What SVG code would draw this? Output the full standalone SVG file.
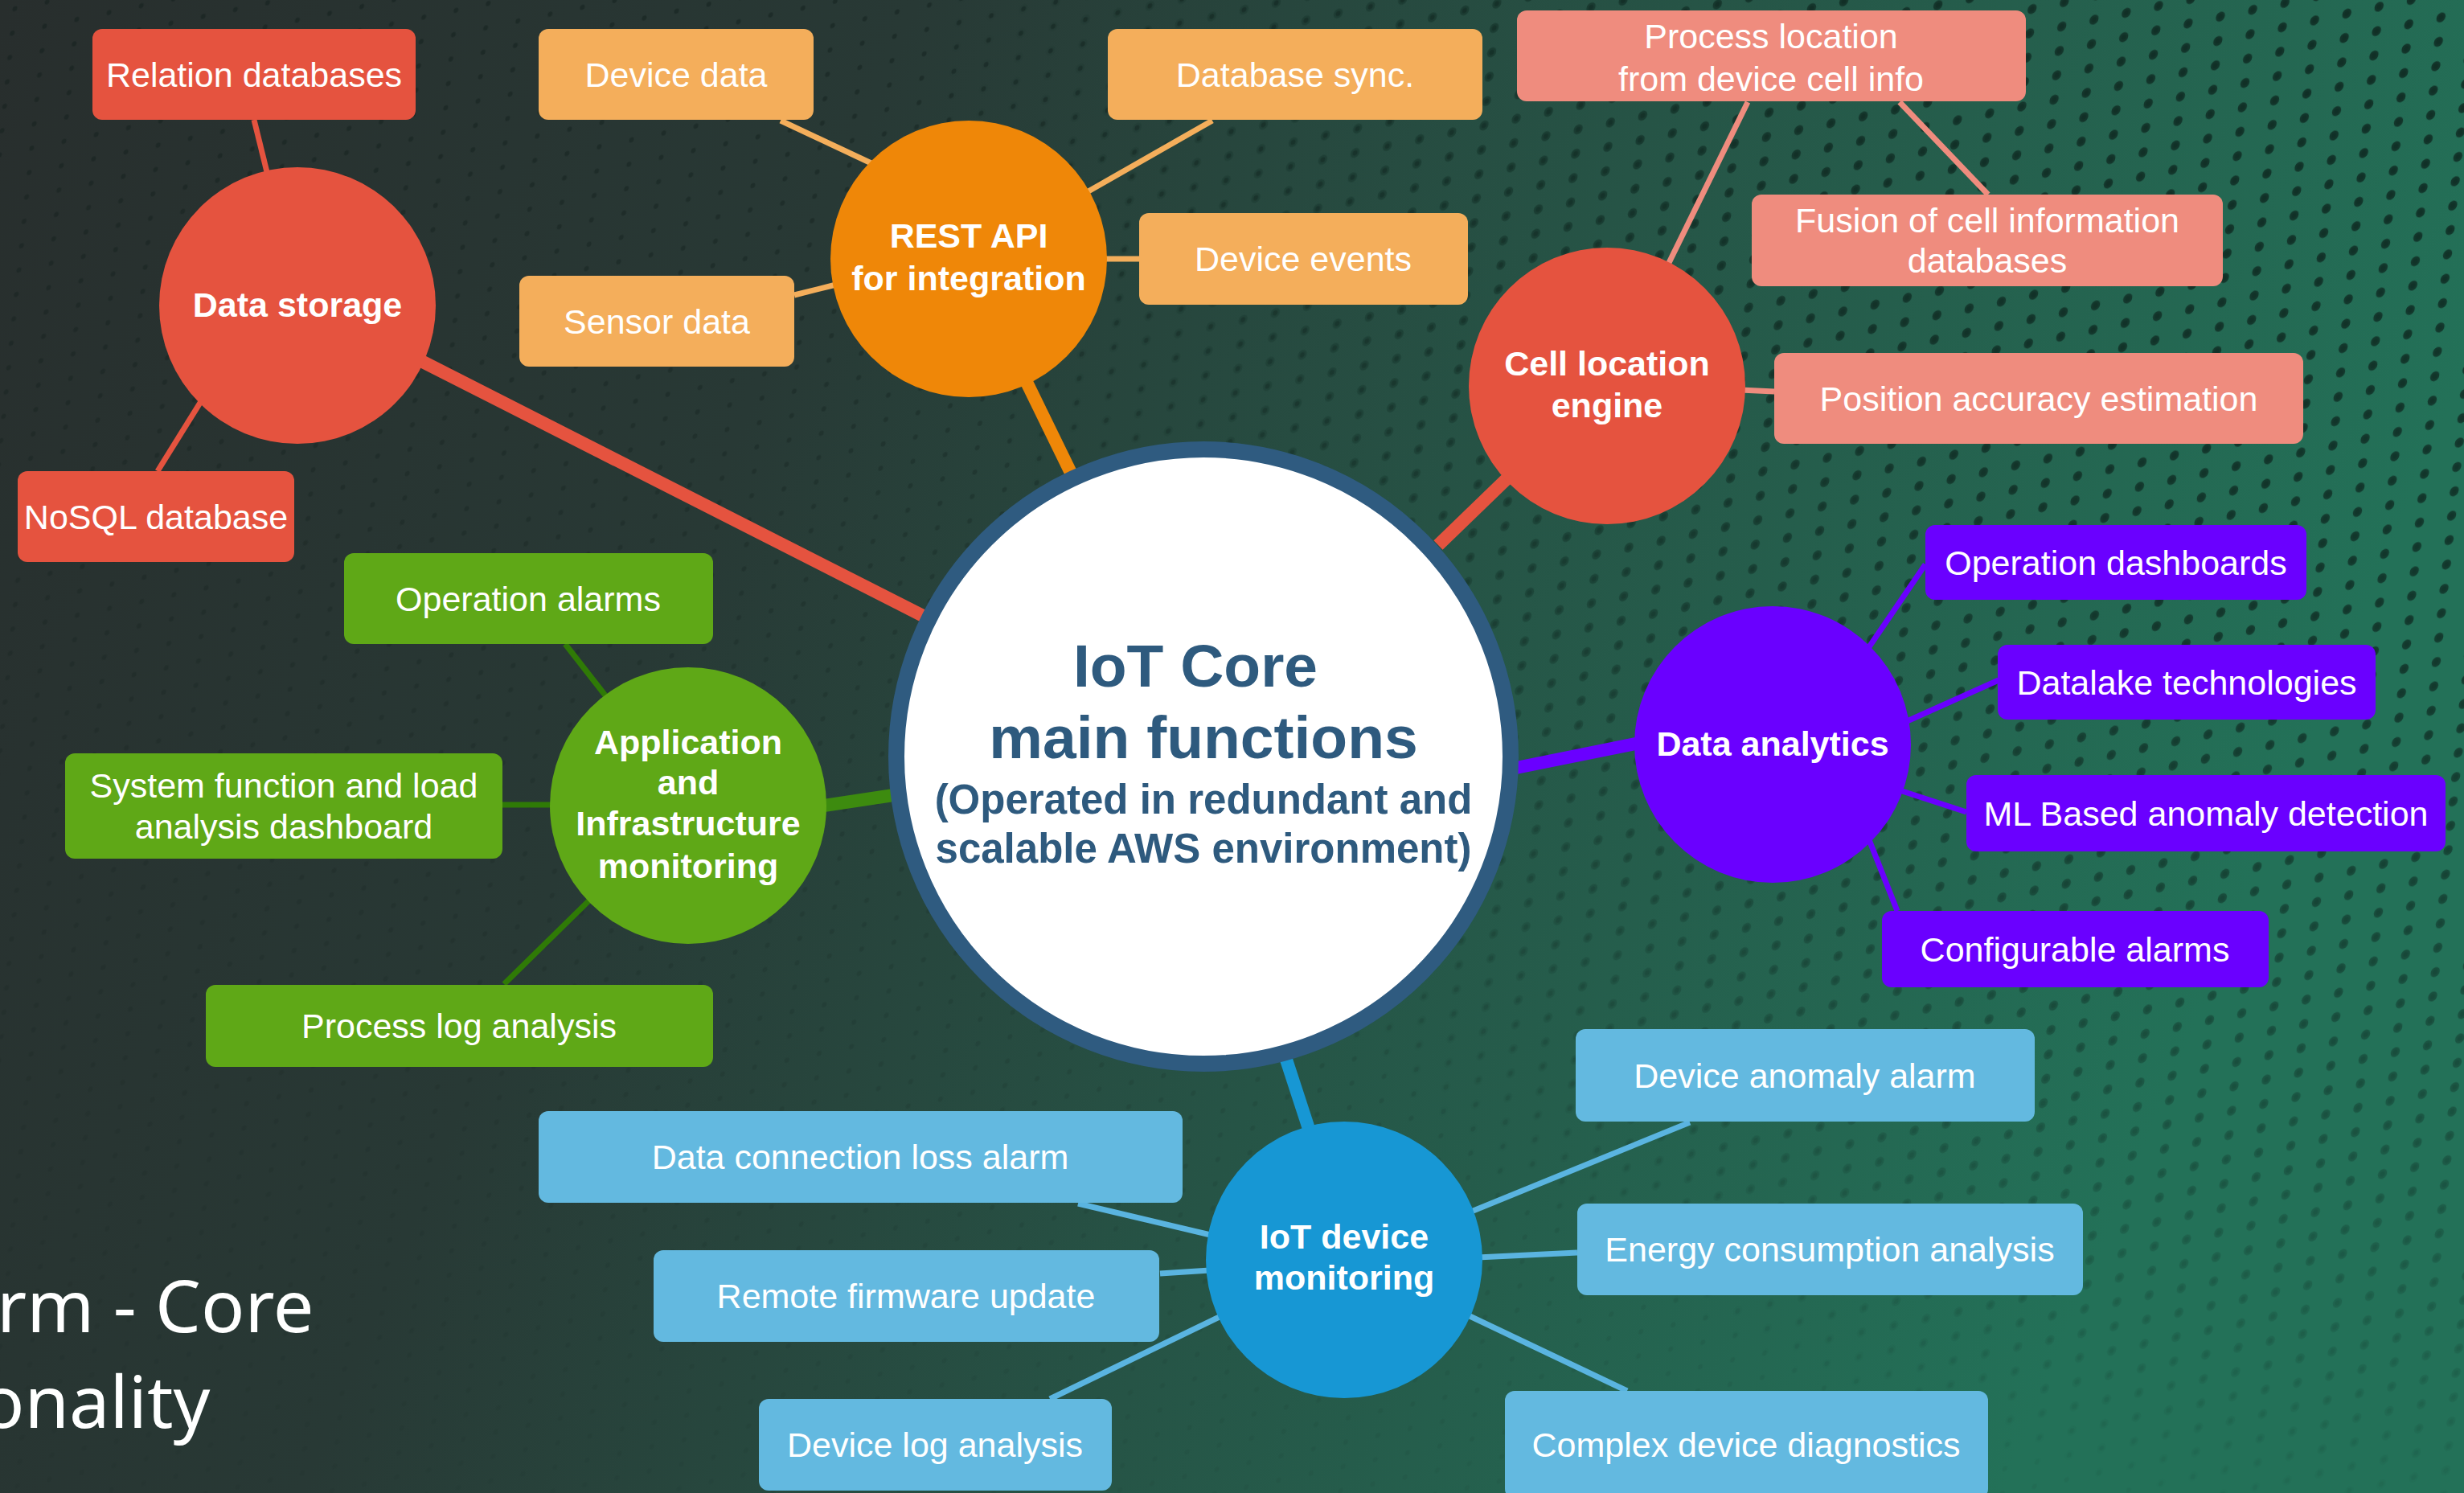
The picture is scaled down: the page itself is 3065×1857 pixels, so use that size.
<svg xmlns="http://www.w3.org/2000/svg" width="3065" height="1857" viewBox="0 0 3065 1857">
<style>
.bt{font-family:"Liberation Sans",Arial,sans-serif;font-size:43px;fill:#ffffff;text-anchor:middle}
.nt{font-family:"Liberation Sans",Arial,sans-serif;font-size:43px;font-weight:bold;fill:#ffffff;text-anchor:middle}
.ct{font-family:"Liberation Sans",Arial,sans-serif;font-weight:bold;fill:#2e5a7e;text-anchor:middle}
.title{font-family:"Noto Sans","Open Sans",sans-serif;font-size:90px;fill:#ffffff}
.thin{stroke-width:7;fill:none}
.thick{stroke-width:16;fill:none}
</style>
<defs>
<linearGradient id="bg" x1="0" y1="0" x2="1" y2="0.25">
<stop offset="0" stop-color="#282e2d"/>
<stop offset="0.35" stop-color="#283935"/>
<stop offset="0.65" stop-color="#265446"/>
<stop offset="1" stop-color="#237158"/>
</linearGradient>
<pattern id="dotsL" width="41" height="29" patternUnits="userSpaceOnUse" patternTransform="rotate(-12) skewX(-18)">
<circle cx="20.5" cy="14.5" r="5.8" fill="#0f2a22"/>
</pattern>
<pattern id="dotsS" width="41" height="29" patternUnits="userSpaceOnUse" patternTransform="rotate(-12) skewX(-18)">
<circle cx="20.5" cy="14.5" r="3" fill="#101d1a"/>
</pattern>
<radialGradient id="rg" cx="3065" cy="0" r="1900" gradientUnits="userSpaceOnUse">
<stop offset="0" stop-color="#fff" stop-opacity="1"/>
<stop offset="0.45" stop-color="#fff" stop-opacity="0.85"/>
<stop offset="1" stop-color="#fff" stop-opacity="0"/>
</radialGradient>
<linearGradient id="lg" x1="0" y1="0" x2="0" y2="1">
<stop offset="0" stop-color="#fff" stop-opacity="0.8"/>
<stop offset="0.5" stop-color="#fff" stop-opacity="0.35"/>
<stop offset="1" stop-color="#fff" stop-opacity="0.1"/>
</linearGradient>
<mask id="mL"><rect width="3065" height="1857" fill="url(#rg)"/></mask>
<mask id="mS"><rect width="3065" height="1857" fill="url(#lg)"/></mask>
</defs>

<g id="background">
<rect width="3065" height="1857" fill="url(#bg)"/>
<rect width="3065" height="1857" fill="url(#dotsS)" mask="url(#mS)" opacity="0.55"/>
<rect width="3065" height="1857" fill="url(#dotsL)" mask="url(#mL)" opacity="0.85"/>
</g>

<g id="title">
<text class="title" x="-4" y="1657">rm - Core</text>
<text class="title" x="-24" y="1776">onality</text>
</g>

<g id="connectors">
<line class="thick" stroke="#e5533f" x1="520" y1="447" x2="1160" y2="772"/>
<line class="thin" stroke="#e5533f" x1="316" y1="149" x2="334" y2="222"/>
<line class="thin" stroke="#e5533f" x1="252" y1="496" x2="196" y2="586"/>
<line class="thick" stroke="#ef8708" x1="1272" y1="465" x2="1333" y2="590"/>
<line class="thin" stroke="#f4ae5b" x1="971" y1="150" x2="1088" y2="205"/>
<line class="thin" stroke="#f4ae5b" x1="1508" y1="150" x2="1345" y2="243"/>
<line class="thin" stroke="#f4ae5b" x1="1370" y1="322" x2="1418" y2="322"/>
<line class="thin" stroke="#f4ae5b" x1="988" y1="367" x2="1040" y2="354"/>
<line class="thick" stroke="#e5533f" x1="1880" y1="590" x2="1789" y2="678"/>
<line class="thin" stroke="#ef8c7e" x1="2174" y1="127" x2="2073" y2="333"/>
<line class="thin" stroke="#ef8c7e" x1="2363" y1="127" x2="2473" y2="242"/>
<line class="thin" stroke="#ef8c7e" x1="2165" y1="485" x2="2207" y2="487"/>
<line class="thick" stroke="#6a00ff" x1="1886" y1="955" x2="2040" y2="924"/>
<line class="thin" stroke="#6a00ff" x1="2320" y1="812" x2="2395" y2="702"/>
<line class="thin" stroke="#6a00ff" x1="2370" y1="898" x2="2486" y2="846"/>
<line class="thin" stroke="#6a00ff" x1="2360" y1="982" x2="2446" y2="1010"/>
<line class="thin" stroke="#6a00ff" x1="2324" y1="1042" x2="2360" y2="1133"/>
<line class="thick" stroke="#3d8b0f" x1="1025" y1="1002" x2="1118" y2="988"/>
<line class="thin" stroke="#2f7a06" x1="703" y1="801" x2="760" y2="874"/>
<line class="thin" stroke="#2f7a06" x1="625" y1="1001" x2="690" y2="1001"/>
<line class="thin" stroke="#2f7a06" x1="627" y1="1224" x2="738" y2="1115"/>
<line class="thick" stroke="#1797d4" x1="1600" y1="1318" x2="1630" y2="1410"/>
<line class="thin" stroke="#5ab4e0" x1="1341" y1="1497" x2="1510" y2="1537"/>
<line class="thin" stroke="#5ab4e0" x1="1443" y1="1584" x2="1505" y2="1580"/>
<line class="thin" stroke="#5ab4e0" x1="1306" y1="1740" x2="1525" y2="1634"/>
<line class="thin" stroke="#5ab4e0" x1="1830" y1="1507" x2="2102" y2="1396"/>
<line class="thin" stroke="#5ab4e0" x1="1838" y1="1564" x2="1962" y2="1558"/>
<line class="thin" stroke="#5ab4e0" x1="1822" y1="1634" x2="2024" y2="1730"/>
</g>

<g id="center">
<circle cx="1497" cy="941" r="382" fill="#ffffff" stroke="#2f5b80" stroke-width="20"/>
<text class="ct" x="1487" y="854" font-size="75">IoT Core</text>
<text class="ct" x="1497" y="943" font-size="75">main functions</text>
<text class="ct" x="1497" y="1012" font-size="51">(Operated in redundant and</text>
<text class="ct" x="1497" y="1073" font-size="51">scalable AWS environment)</text>
</g>

<g id="data-storage">
<circle cx="370" cy="380" r="172" fill="#e5533f"/>
<text class="nt" x="370" y="394">Data storage</text>
</g>
<g id="relation-databases">
<rect x="115" y="36" width="402" height="113" rx="12" fill="#e5533f"/>
<text class="bt" x="316" y="108">Relation databases</text>
</g>
<g id="nosql-database">
<rect x="22" y="586" width="344" height="113" rx="12" fill="#e5533f"/>
<text class="bt" x="194" y="658">NoSQL database</text>
</g>

<g id="rest-api">
<circle cx="1205" cy="322" r="172" fill="#ef8708"/>
<text class="nt" x="1205" y="308">REST API</text>
<text class="nt" x="1205" y="361">for integration</text>
</g>
<g id="device-data">
<rect x="670" y="36" width="342" height="113" rx="12" fill="#f4ae5b"/>
<text class="bt" x="841" y="108">Device data</text>
</g>
<g id="database-sync">
<rect x="1378" y="36" width="466" height="113" rx="12" fill="#f4ae5b"/>
<text class="bt" x="1611" y="108">Database sync.</text>
</g>
<g id="device-events">
<rect x="1417" y="265" width="409" height="114" rx="12" fill="#f4ae5b"/>
<text class="bt" x="1621" y="337">Device events</text>
</g>
<g id="sensor-data">
<rect x="646" y="343" width="342" height="113" rx="12" fill="#f4ae5b"/>
<text class="bt" x="817" y="415">Sensor data</text>
</g>

<g id="cell-location">
<circle cx="1999" cy="480" r="172" fill="#e5533f"/>
<text class="nt" x="1999" y="467">Cell location</text>
<text class="nt" x="1999" y="519">engine</text>
</g>
<g id="process-location">
<rect x="1887" y="13" width="633" height="113" rx="12" fill="#ef8c7e"/>
<text class="bt" x="2203" y="60">Process location</text>
<text class="bt" x="2203" y="113">from device cell info</text>
</g>
<g id="fusion">
<rect x="2179" y="242" width="586" height="114" rx="12" fill="#ef8c7e"/>
<text class="bt" x="2472" y="289">Fusion of cell information</text>
<text class="bt" x="2472" y="339">databases</text>
</g>
<g id="position-accuracy">
<rect x="2207" y="439" width="658" height="113" rx="12" fill="#ef8c7e"/>
<text class="bt" x="2536" y="511">Position accuracy estimation</text>
</g>

<g id="data-analytics">
<circle cx="2205" cy="926" r="172" fill="#6a00ff"/>
<text class="nt" x="2205" y="940">Data analytics</text>
</g>
<g id="operation-dashboards">
<rect x="2395" y="653" width="474" height="93" rx="12" fill="#6a00ff"/>
<text class="bt" x="2632" y="715">Operation dashboards</text>
</g>
<g id="datalake">
<rect x="2485" y="802" width="470" height="93" rx="12" fill="#6a00ff"/>
<text class="bt" x="2720" y="864">Datalake technologies</text>
</g>
<g id="ml-anomaly">
<rect x="2446" y="964" width="596" height="95" rx="12" fill="#6a00ff"/>
<text class="bt" x="2744" y="1027">ML Based anomaly detection</text>
</g>
<g id="configurable-alarms">
<rect x="2341" y="1133" width="481" height="95" rx="12" fill="#6a00ff"/>
<text class="bt" x="2581" y="1196">Configurable alarms</text>
</g>

<g id="app-monitoring">
<circle cx="856" cy="1002" r="172" fill="#5fa817"/>
<text class="nt" x="856" y="938">Application</text>
<text class="nt" x="856" y="988">and</text>
<text class="nt" x="856" y="1039">Infrastructure</text>
<text class="nt" x="856" y="1092">monitoring</text>
</g>
<g id="operation-alarms">
<rect x="428" y="688" width="459" height="113" rx="12" fill="#5fa817"/>
<text class="bt" x="657" y="760">Operation alarms</text>
</g>
<g id="system-function">
<rect x="81" y="937" width="544" height="131" rx="12" fill="#5fa817"/>
<text class="bt" x="353" y="992">System function and load</text>
<text class="bt" x="353" y="1043">analysis dashboard</text>
</g>
<g id="process-log">
<rect x="256" y="1225" width="631" height="102" rx="12" fill="#5fa817"/>
<text class="bt" x="571" y="1291">Process log analysis</text>
</g>

<g id="iot-device-monitoring">
<circle cx="1672" cy="1567" r="172" fill="#1797d4"/>
<text class="nt" x="1672" y="1553">IoT device</text>
<text class="nt" x="1672" y="1604">monitoring</text>
</g>
<g id="device-anomaly">
<rect x="1960" y="1280" width="571" height="115" rx="12" fill="#63b9e0"/>
<text class="bt" x="2245" y="1353">Device anomaly alarm</text>
</g>
<g id="data-connection">
<rect x="670" y="1382" width="801" height="114" rx="12" fill="#63b9e0"/>
<text class="bt" x="1070" y="1454">Data connection loss alarm</text>
</g>
<g id="energy">
<rect x="1962" y="1497" width="629" height="114" rx="12" fill="#63b9e0"/>
<text class="bt" x="2276" y="1569">Energy consumption analysis</text>
</g>
<g id="remote-firmware">
<rect x="813" y="1555" width="629" height="114" rx="12" fill="#63b9e0"/>
<text class="bt" x="1127" y="1627">Remote firmware update</text>
</g>
<g id="device-log">
<rect x="944" y="1740" width="439" height="114" rx="12" fill="#63b9e0"/>
<text class="bt" x="1163" y="1812">Device log analysis</text>
</g>
<g id="complex-diagnostics">
<rect x="1872" y="1730" width="601" height="134" rx="12" fill="#63b9e0"/>
<text class="bt" x="2172" y="1812">Complex device diagnostics</text>
</g>
</svg>
